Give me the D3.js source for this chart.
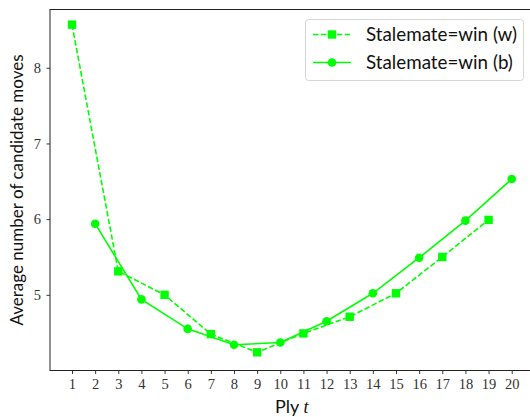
<!DOCTYPE html>
<html>
<head>
<meta charset="utf-8">
<script src="https://cdn.jsdelivr.net/npm/d3@7"></script>
<style>
  body { margin: 0; background: #fff; }
  svg { display: block; }
</style>
</head>
<body>
<script>
// values
const pliesW = [1, 3, 5, 7, 9, 11, 13, 15, 17, 19];
const movesW = [8.57, 5.31, 5.00, 4.48, 4.24, 4.49, 4.71, 5.02, 5.50, 5.99];
const pliesB = [2, 4, 6, 8, 10, 12, 14, 16, 18, 20];
const movesB = [5.94, 4.94, 4.55, 4.34, 4.37, 4.65, 5.02, 5.49, 5.98, 6.53];
const xTicks = d3.range(1, 21);
const yTicks = [5, 6, 7, 8];
const seriesNames = ["Stalemate=win (w)", "Stalemate=win (b)"];

function main(){
    const width = 530;
    const height = 417;
    const green = "#00ff00";

    const svg = d3.select("body").append("svg")
        .attr("width", width)
        .attr("height", height);

    const left = 50, right = 533.7, top = 9.5, bottom = 370.5;

    const x = d3.scaleLinear().domain([0.05, 20.95]).range([left, right]);
    const y = d3.scaleLinear().domain([4.0, 8.77]).range([bottom, top]);

    // axes
    const xAxis = svg.append("g")
        .attr("transform", `translate(0,${bottom})`)
        .call(d3.axisBottom(x).tickValues(xTicks).tickSize(3.5).tickPadding(5).tickFormat(d3.format("d")));
    const yAxis = svg.append("g")
        .attr("transform", `translate(${left},0)`)
        .call(d3.axisLeft(y).tickValues(yTicks).tickSize(3.5).tickPadding(5.5).tickFormat(d3.format("d")));

    [xAxis, yAxis].forEach(function(a){
        a.select(".domain").remove();
        a.selectAll(".tick line").attr("stroke", "#222").attr("stroke-width", 0.9);
        a.selectAll(".tick text")
            .attr("fill", "#333")
            .style("font-family", "'Liberation Serif', serif")
            .style("font-size", "14.5px");
    });

    // frame (right side falls outside the picture)
    svg.append("rect")
        .attr("x", left).attr("y", top)
        .attr("width", right - left).attr("height", bottom - top)
        .attr("fill", "none").attr("stroke", "#222").attr("stroke-width", 1);

    const line = d3.line().x(d => x(d[0])).y(d => y(d[1]));
    const dataW = pliesW.map((p, i) => [p, movesW[i]]);
    const dataB = pliesB.map((p, i) => [p, movesB[i]]);

    svg.append("path")
        .datum(dataW)
        .attr("d", line)
        .attr("fill", "none")
        .attr("stroke", green)
        .attr("stroke-width", 1.6)
        .attr("stroke-dasharray", "5.5,2.4");

    svg.selectAll(".sq")
        .data(dataW)
        .enter().append("rect")
        .attr("class", "sq")
        .attr("x", d => x(d[0]) - 4.2)
        .attr("y", d => y(d[1]) - 4.2)
        .attr("width", 8.4)
        .attr("height", 8.4)
        .attr("fill", green);

    svg.append("path")
        .datum(dataB)
        .attr("d", line)
        .attr("fill", "none")
        .attr("stroke", green)
        .attr("stroke-width", 1.6);

    svg.selectAll(".dot")
        .data(dataB)
        .enter().append("circle")
        .attr("class", "dot")
        .attr("cx", d => x(d[0]))
        .attr("cy", d => y(d[1]))
        .attr("r", 4.3)
        .attr("fill", green);

    // axis labels
    const xl = svg.append("text")
        .attr("x", (left + right) / 2)
        .attr("y", 413)
        .attr("text-anchor", "middle")
        .style("font-family", "Lato, sans-serif")
        .style("font-size", "18px")
        .attr("fill", "#111");
    xl.append("tspan").text("Ply ");
    xl.append("tspan")
        .style("font-family", "'Liberation Serif', serif")
        .style("font-style", "italic")
        .text("t");

    svg.append("text")
        .attr("transform", `translate(23,${(top + bottom) / 2}) rotate(-90)`)
        .attr("text-anchor", "middle")
        .style("font-family", "Lato, sans-serif")
        .style("font-size", "17px")
        .attr("fill", "#111")
        .text("Average number of candidate moves");

    // legend
    const lg = svg.append("g");
    lg.append("rect")
        .attr("x", 305.5).attr("y", 19.5)
        .attr("width", 218).attr("height", 61)
        .attr("rx", 3)
        .attr("fill", "#fff")
        .attr("stroke", "#d6d6d6")
        .attr("stroke-width", 1);

    const rows = [34.5, 62.5];
    lg.append("line")
        .attr("x1", 313).attr("x2", 351).attr("y1", rows[0]).attr("y2", rows[0])
        .attr("stroke", green).attr("stroke-width", 1.6).attr("stroke-dasharray", "5.5,2.4");
    lg.append("rect")
        .attr("x", 332 - 4.2).attr("y", rows[0] - 4.2).attr("width", 8.4).attr("height", 8.4)
        .attr("fill", green);
    lg.append("line")
        .attr("x1", 313).attr("x2", 351).attr("y1", rows[1]).attr("y2", rows[1])
        .attr("stroke", green).attr("stroke-width", 1.6);
    lg.append("circle")
        .attr("cx", 332).attr("cy", rows[1]).attr("r", 4.3)
        .attr("fill", green);

    lg.selectAll(".lt")
        .data(seriesNames)
        .enter().append("text")
        .attr("class", "lt")
        .attr("x", 366)
        .attr("y", (d, i) => rows[i] + 6.5)
        .style("font-family", "Lato, sans-serif")
        .style("font-size", "18.8px")
        .attr("fill", "#111")
        .text(d => d);
}
main();
</script>
</body>
</html>
